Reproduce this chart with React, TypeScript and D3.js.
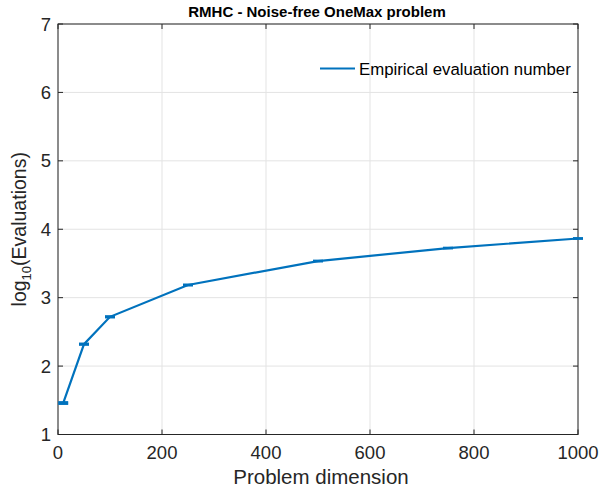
import React from "react";
import * as d3 from "d3";

const dims = [10, 50, 100, 250, 500, 750, 1000];
const logEvals = [1.46, 2.32, 2.72, 3.185, 3.535, 3.725, 3.865];
const errLow = [0.012, 0.008, 0.008, 0.006, 0.005, 0.004, 0.004];
const errHigh = [0.012, 0.008, 0.008, 0.006, 0.005, 0.004, 0.004];
const xTicks = [0, 200, 400, 600, 800, 1000];
const yTicks = [1, 2, 3, 4, 5, 6, 7];
const title = "RMHC - Noise-free OneMax problem";
const legendLabel = "Empirical evaluation number";

export default function App() {
  const W = 601, H = 489;
  const L = 58, R = 578, T = 24, B = 434.5;
  const x = d3.scaleLinear().domain([0, 1000]).range([L, R]);
  const y = d3.scaleLinear().domain([1, 7]).range([B, T]);
  const line = d3.line<number>().x((d, i) => x(dims[i])).y((d) => y(d));
  const axisCol = "#262626";
  const blue = "#0072BD";
  const font = "'Liberation Sans', Arial, Helvetica, sans-serif";
  const capW = 5;
  return (
    <svg width={W} height={H} style={{ position: "absolute", left: 0, top: 0, background: "#fff" }} fontFamily={font}>
      <rect x={0} y={0} width={W} height={H} fill="#fff" />
      {xTicks.map((t) => (
        <line key={"gx" + t} x1={x(t)} x2={x(t)} y1={T} y2={B} stroke="#e3e3e3" strokeWidth={1} />
      ))}
      {yTicks.map((t) => (
        <line key={"gy" + t} x1={L} x2={R} y1={y(t)} y2={y(t)} stroke="#e3e3e3" strokeWidth={1} />
      ))}
      <rect x={L} y={T} width={R - L} height={B - T} fill="none" stroke={axisCol} strokeWidth={1} />
      {xTicks.map((t) => (
        <g key={"tx" + t}>
          <line x1={x(t)} x2={x(t)} y1={B} y2={B - 5} stroke={axisCol} />
          <line x1={x(t)} x2={x(t)} y1={T} y2={T + 5} stroke={axisCol} />
          <text x={x(t)} y={B + 24} fontSize={18.5} textAnchor="middle" fill={axisCol}>{t}</text>
        </g>
      ))}
      {yTicks.map((t) => (
        <g key={"ty" + t}>
          <line x1={L} x2={L + 5} y1={y(t)} y2={y(t)} stroke={axisCol} />
          <line x1={R} x2={R - 5} y1={y(t)} y2={y(t)} stroke={axisCol} />
          <text x={L - 7} y={y(t) + 6.5} fontSize={18.5} textAnchor="end" fill={axisCol}>{t}</text>
        </g>
      ))}
      <path d={line(logEvals) || ""} fill="none" stroke={blue} strokeWidth={2.2} />
      {dims.map((d, i) => (
        <g key={"eb" + d} stroke={blue} strokeWidth={2.2}>
          <line x1={x(d)} x2={x(d)} y1={y(logEvals[i] - errLow[i])} y2={y(logEvals[i] + errHigh[i])} />
          <line x1={x(d) - capW} x2={x(d) + capW} y1={y(logEvals[i] - errLow[i])} y2={y(logEvals[i] - errLow[i])} />
          <line x1={x(d) - capW} x2={x(d) + capW} y1={y(logEvals[i] + errHigh[i])} y2={y(logEvals[i] + errHigh[i])} />
        </g>
      ))}
      <text x={(L + R) / 2 - 1} y={17} fontSize={15} fontWeight="bold" textAnchor="middle" fill="#000">{title}</text>
      <text x={(L + R) / 2 + 3} y={484} fontSize={20.5} textAnchor="middle" fill={axisCol}>Problem dimension</text>
      <text transform={`translate(26, ${(T + B) / 2}) rotate(-90)`} fontSize={19.5} textAnchor="middle" fill={axisCol}>
        log<tspan fontSize={13} dy={5}>10</tspan><tspan dy={-5}>(Evaluations)</tspan>
      </text>
      <line x1={320} x2={355} y1={68.5} y2={68.5} stroke={blue} strokeWidth={2.2} />
      <text x={359} y={74.5} fontSize={16.8} fill="#000">{legendLabel}</text>
    </svg>
  );
}
